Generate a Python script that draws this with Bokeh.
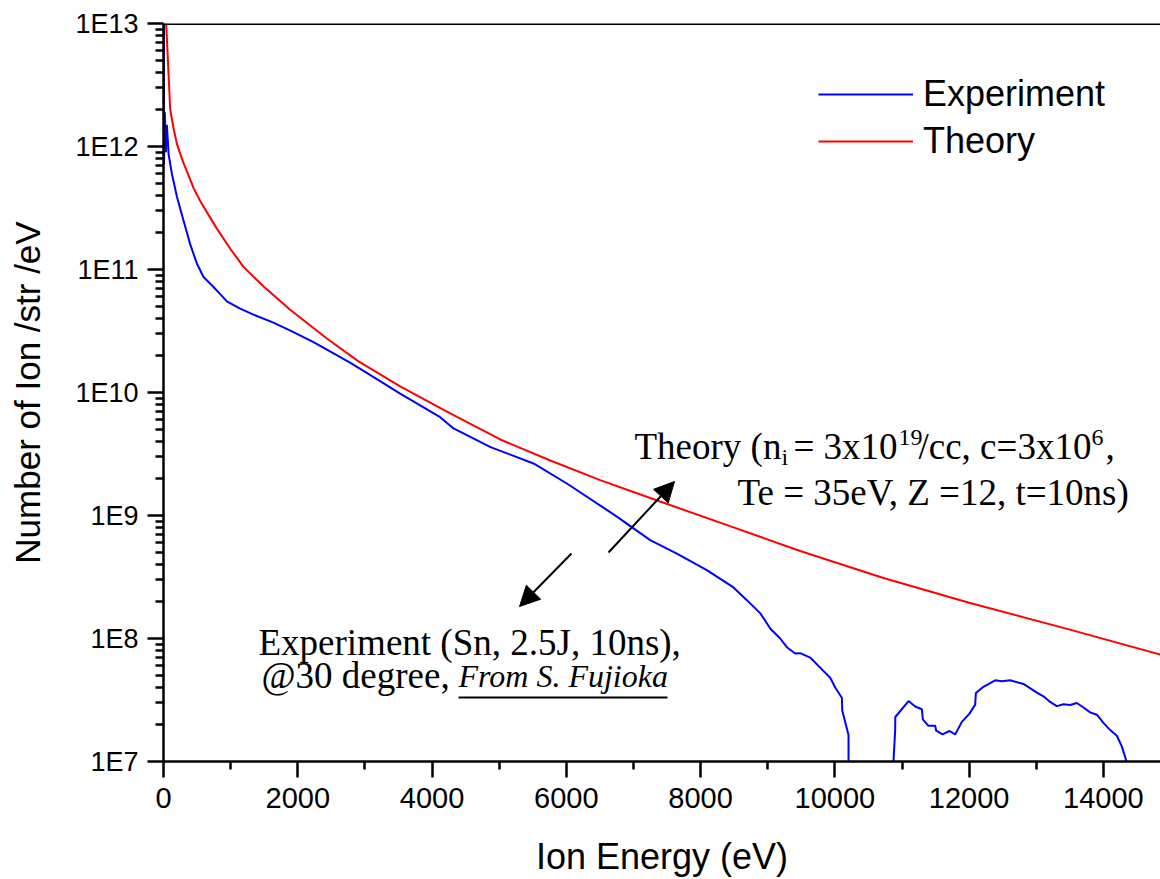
from bokeh.plotting import figure
from bokeh.models import (FixedTicker, Legend, LegendItem, Label, Arrow,
                          NormalHead, Span, Range1d)
from bokeh.embed import file_html
from bokeh.resources import INLINE

# ---------------- data ----------------
exp_energy = [5, 8, 20, 35, 50, 65, 75, 125, 200, 298, 398, 497, 596, 745, 845,
              944, 1142, 1340, 1638, 1936, 2234, 2785, 3232, 3525, 4121, 4320,
              4871, 5511, 6008, 6753, 7249, 7646, 8093, 8490, 8689, 8890, 9040,
              9185, 9285, 9409, 9483, 9632, 9781, 9930, 10005, 10104, 10110,
              10203, 10205, float("nan"),
              10774, 10898, 10900, 11097, 11196, 11296, 11310, 11394, 11494,
              11509, 11603, 11707, 11792, 11891, 12005, 12090, 12100, 12213,
              12387, 12487, 12611, 12809, 13008, 13107, 13206, 13306, 13405,
              13504, 13604, 13703, 13802, 13902, 14000, 14100, 14200, 14275,
              14349, 14360]
exp_counts = [1.0e13, 7.2e11, 1.9e12, 9.0e11, 1.5e12, 1.1e12, 8.7e11, 6.0e11,
              3.9e11, 2.5e11, 1.6e11, 1.12e11, 8.7e10, 7.2e10, 6.3e10, 5.5e10,
              4.8e10, 4.3e10, 3.7e10, 3.1e10, 2.57e10, 1.74e10, 1.23e10, 9.8e9,
              6.3e9, 5.1e9, 3.6e9, 2.65e9, 1.82e9, 9.8e8, 6.3e8, 4.9e8, 3.6e8,
              2.6e8, 2.05e8, 1.6e8, 1.2e8, 1.0e8, 8.5e7, 7.55e7, 7.6e7, 7.0e7,
              5.8e7, 4.8e7, 4.0e7, 3.3e7, 2.6e7, 1.64e7, 1.0e6, float("nan"),
              1.0e6, 1.8e7, 2.3e7, 3.1e7, 2.8e7, 2.66e7, 2.2e7, 1.95e7, 1.95e7,
              1.78e7, 1.66e7, 1.77e7, 1.66e7, 2.1e7, 2.45e7, 2.9e7, 3.6e7,
              4.05e7, 4.57e7, 4.5e7, 4.57e7, 4.27e7, 3.63e7, 3.39e7, 3.05e7,
              2.82e7, 2.92e7, 2.88e7, 2.99e7, 2.75e7, 2.51e7, 2.4e7, 2.06e7,
              1.8e7, 1.62e7, 1.32e7, 9.8e6, 1.0e6]

theory_energy = [40, 100, 150, 200, 250, 300, 350, 450, 547, 650, 800, 1000,
                 1192, 1500, 1887, 2433, 2900, 3525, 4200, 5016, 5762, 6504,
                 7396, 8490, 9483, 10724, 12000, 13500, 14850]
theory_counts = [1.0e13, 2.0e12, 1.4e12, 1.05e12, 8.7e11, 7.3e11, 6.25e11,
                 4.57e11, 3.6e11, 2.9e11, 2.13e11, 1.46e11, 1.05e11, 7.2e10,
                 4.7e10, 2.75e10, 1.8e10, 1.12e10, 7.1e9, 4.15e9, 2.8e9, 1.94e9,
                 1.3e9, 8.0e8, 5.15e8, 3.1e8, 1.95e8, 1.18e8, 7.4e7]

x_tick_values = [0, 2000, 4000, 6000, 8000, 10000, 12000, 14000]
x_minor_ticks = [1000, 3000, 5000, 7000, 9000, 11000, 13000]
y_tick_values = [1e7, 1e8, 1e9, 1e10, 1e11, 1e12, 1e13]
y_tick_labels = ["1E7", "1E8", "1E9", "1E10", "1E11", "1E12", "1E13"]
series_names = ["Experiment", "Theory"]

# ---------------- layout ----------------
W, H = 1160, 879
LEFT, RIGHT, TOP, BOTTOM = 163, 0, 23, 118
X0, X1 = 0, 14850
Y0, Y1 = 1e7, 1e13
SANS = "Liberation Sans"
SERIF = "Liberation Serif"

FW = W - LEFT - RIGHT
FH = H - TOP - BOTTOM


def dx(px):
    return X0 + (px - LEFT) / FW * (X1 - X0)


def dy(py):
    return 10 ** (13 - (py - TOP) / FH * 6)


p = figure(width=W, height=H, x_range=Range1d(X0, X1), y_range=Range1d(Y0, Y1),
           y_axis_type="log", output_backend="svg", toolbar_location=None,
           min_border_left=LEFT, min_border_right=RIGHT, min_border_top=TOP,
           min_border_bottom=BOTTOM)
p.xgrid.visible = False
p.ygrid.visible = False
p.outline_line_color = None
p.background_fill_color = "white"
p.border_fill_color = "white"

r_exp = p.line(exp_energy, exp_counts, line_color="#0000ff", line_width=2)
r_th = p.line(theory_energy, theory_counts, line_color="#ff0000", line_width=2)

p.add_layout(Span(location=Y1, dimension="width", line_color="black",
                  line_width=3))

# axes
minor_y = []
for v in y_tick_values[:-1]:
    for m in range(2, 10):
        minor_y.append(v * m)

p.xaxis.ticker = FixedTicker(ticks=x_tick_values, minor_ticks=x_minor_ticks)
p.yaxis.ticker = FixedTicker(ticks=y_tick_values, minor_ticks=minor_y)
p.yaxis.major_label_overrides = {v: s for v, s in zip(y_tick_values, y_tick_labels)}

p.axis.axis_line_color = "black"
p.axis.axis_line_width = 2.5
p.axis.major_tick_line_color = "black"
p.axis.minor_tick_line_color = "black"
p.axis.major_tick_line_width = 2.5
p.axis.minor_tick_line_width = 2.5
p.axis.major_tick_in = 0
p.axis.minor_tick_in = 0
p.axis.major_tick_out = 16
p.axis.minor_tick_out = 8
p.axis.major_label_text_font = SANS
p.axis.major_label_text_color = "black"
p.axis.axis_label_text_font = SANS
p.axis.axis_label_text_font_style = "normal"
p.axis.axis_label_text_color = "black"

p.xaxis.major_label_text_font_size = "29px"
p.xaxis.major_label_standoff = 10
p.xaxis.axis_label = "Ion Energy (eV)"
p.xaxis.axis_label_text_font_size = "36px"
p.xaxis.axis_label_standoff = 25

p.yaxis.major_label_text_font_size = "27px"
p.yaxis.major_label_standoff = 9
p.yaxis.axis_label = "Number of Ion /str /eV"
p.yaxis.axis_label_text_font_size = "35px"
p.yaxis.axis_label_standoff = 25

# legend
legend = Legend(items=[LegendItem(label=series_names[0], renderers=[r_exp]),
                       LegendItem(label=series_names[1], renderers=[r_th])],
                location=(655, 599), glyph_width=95, glyph_height=40,
                label_height=40, label_standoff=10, spacing=5, padding=0,
                margin=0, label_text_font=SANS, label_text_font_size="36px",
                label_text_color="black",
                border_line_alpha=0, background_fill_alpha=0)
p.add_layout(legend)

# annotation texts
SHIFT = -15


def add_text(txt, px, py, size, style="normal"):
    p.add_layout(Label(x=dx(px), y=dy(py + SHIFT), text=txt, text_font=SERIF,
                       text_font_size=size, text_font_style=style,
                       text_baseline="alphabetic", text_align="left",
                       text_color="black"))


add_text("Theory (n", 634, 461, "37px")
add_text("i", 781, 471, "24px")
add_text("= 3x10", 793, 461, "37px")
add_text("19", 898, 452, "24px")
add_text("/cc, c=3x10", 918, 461, "37px")
add_text("6", 1091, 452, "24px")
add_text(",", 1105, 461, "37px")
add_text("Te = 35eV, Z =12, t=10ns)", 737, 507, "37px")
add_text("Experiment (Sn, 2.5J, 10ns),", 258, 657, "37px")
add_text("@30 degree,", 261, 690, "37px")
add_text("From S. Fujioka", 458, 690, "32px", "italic")

# underline
p.add_layout(Arrow(x_start=dx(458), y_start=dy(697), x_end=dx(667), y_end=dy(697),
                   end=None, line_color="black", line_width=2))

# arrows
p.add_layout(Arrow(x_start=dx(608), y_start=dy(552), x_end=dx(674), y_end=dy(481),
                   line_color="black", line_width=2,
                   end=NormalHead(size=20, fill_color="black", line_color="black")))
p.add_layout(Arrow(x_start=dx(571), y_start=dy(553), x_end=dx(519), y_end=dy(606),
                   line_color="black", line_width=2,
                   end=NormalHead(size=20, fill_color="black", line_color="black")))

open("out.html", "w").write(file_html(p, INLINE))
